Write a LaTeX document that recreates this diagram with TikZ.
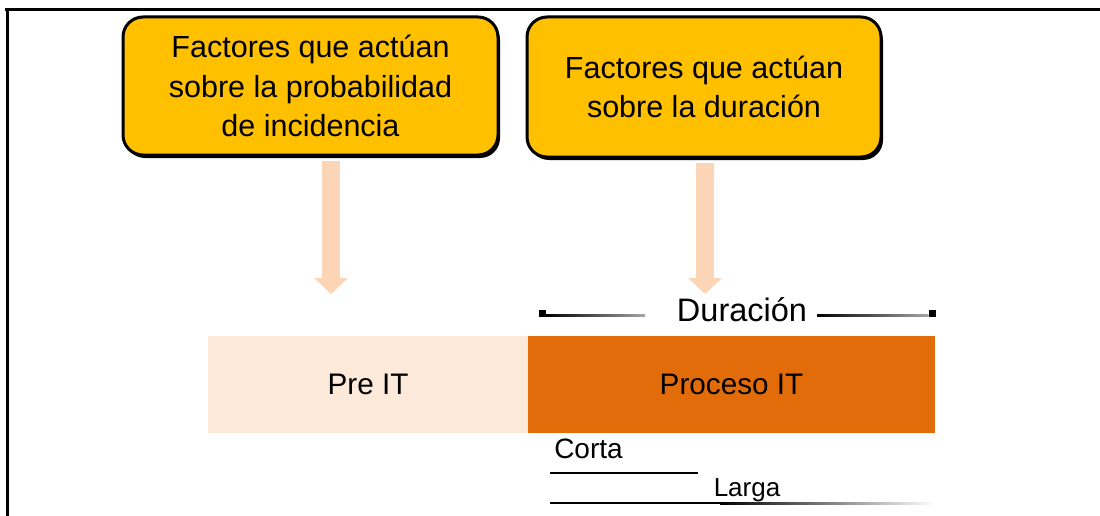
\documentclass[tikz,border=0pt]{standalone}
\usepackage{fontspec}
\setmainfont{Liberation Sans}
\usetikzlibrary{arrows.meta,shadows}
\definecolor{boxyellow}{HTML}{FFC000}
\definecolor{peach}{HTML}{FBD5B5}
\definecolor{prefill}{HTML}{FDE9D9}
\definecolor{procfill}{HTML}{E36C0A}
\begin{document}
\begin{tikzpicture}[x=1pt,y=-1pt,
  factorbox/.style={draw=black, line width=3pt, fill=boxyellow, rounded corners=20pt,
    align=center, font=\fontsize{30.5}{39.5}\selectfont, inner sep=0pt,
    drop shadow={shadow xshift=2pt, shadow yshift=-3pt, fill=black, opacity=1}},
  bigarrow/.style={peach, line width=18pt, shorten <=4pt, -{Triangle[width=33pt,length=16pt]}},
  phase/.style={inner sep=0pt, minimum height=97pt, font=\fontsize{29.7}{34}\selectfont},
  sq/.style={fill=black, inner sep=0pt, minimum size=7pt},
  lbl/.style={inner sep=0pt, font=\fontsize{26}{30}\selectfont}]
\useasboundingbox (0,0) rectangle (1100,516);
\fill[white] (0,0) rectangle (1100,516);
% frame
\draw[line width=3.5pt] (5,9.5) -- (1100,9.5);
\draw[line width=3pt] (7.5,8) -- (7.5,516);
% boxes
\node[factorbox, minimum width=375pt, minimum height=138pt] (b1) at (310.5,86)
  {Factores que actúan\\sobre la probabilidad\\de incidencia};
\node[factorbox, minimum width=354pt, minimum height=140pt] (b2) at (704,87)
  {Factores que actúan\\sobre la duración};
% arrows
\coordinate (t1) at (331,294);
\coordinate (t2) at (705,294);
\draw[bigarrow] (b1.south -| t1) -- (t1);
\draw[bigarrow] (b2.south -| t2) -- (t2);
% phases
\node[phase, fill=prefill, minimum width=320pt] (pre) at (368,384.5) {Pre IT};
\node[phase, fill=procfill, minimum width=407pt] (proc) at (731.5,384.5) {Proceso IT};
% duration
\node[inner sep=0pt, font=\fontsize{32.5}{36}\selectfont] (dur) at (742,310) {Duración};
\node[sq] (sqL) at (542,313) {};
\node[sq] (sqR) at (932,313.5) {};
\shade[left color=black, right color=black!35] (sqL.east |- 0,314) rectangle (645,316);
\shade[left color=black, right color=black!35] (817,314) rectangle (sqR.west |- 0,316);
% corta / larga
\node[lbl, font=\fontsize{28}{30}\selectfont] (corta) at (588.5,449) {Corta};
\node[lbl] (larga) at (747,490) {Larga};
\draw[line width=1.5pt] (550,473) -- (698,473);
\fill[black] (550,502) rectangle (720,504);
\shade[left color=black, right color=white] (720,502) rectangle (935,504);
\end{tikzpicture}
\end{document}
